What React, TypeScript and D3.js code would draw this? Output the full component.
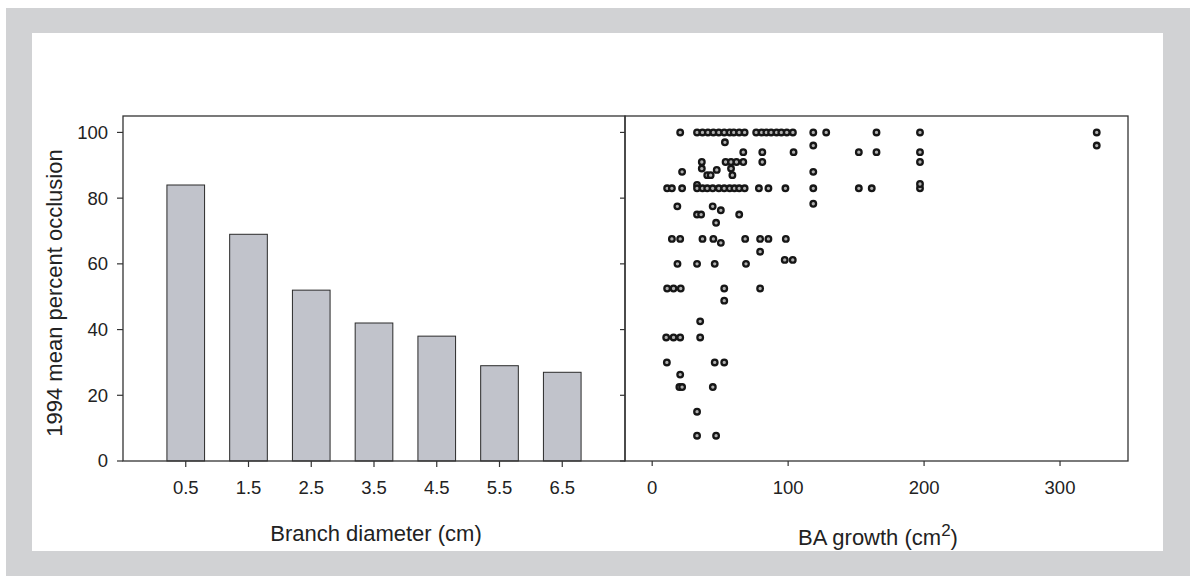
import React from "react";
import * as d3 from "d3";

// left panel: mean occlusion by branch diameter class
const diameterClasses = [0.5, 1.5, 2.5, 3.5, 4.5, 5.5, 6.5];
const meanOcclusion = [84, 69, 52, 42, 38, 29, 27];
const yTicks = [0, 20, 40, 60, 80, 100];
const growthTicks = [0, 100, 200, 300];

// right panel: BA growth (cm2) vs percent occlusion, one pair per branch
const scatterPoints: [number, number][] = [
  [20.6, 100], [33, 100], [37, 100], [41, 100], [45, 100], [49, 100], [53, 100], [57, 100],
  [60, 100], [64, 100], [68, 100], [76.5, 100], [80.5, 100], [84, 100], [87.5, 100],
  [91.5, 100], [95, 100], [99, 100], [103.5, 100], [118.5, 100], [128, 100], [165, 100],
  [197, 100], [327, 100],
  [53.5, 97], [118.5, 96], [327, 96],
  [67, 94], [81, 94], [104, 94], [152, 94], [165, 94], [197, 94],
  [36.5, 91], [54, 91], [58, 91], [62, 91], [67, 91], [81, 91], [197, 91],
  [36.5, 89], [58, 89], [47.5, 88.6],
  [22, 88], [118.5, 88],
  [40.5, 87], [43, 87], [59, 87],
  [33, 84],
  [11, 83], [14.5, 83], [22, 83], [33, 83], [37, 83], [40.5, 83], [44.5, 83], [49, 83],
  [53, 83], [57, 83], [60.5, 83], [64, 83], [68, 83], [78.5, 83], [85.5, 83], [98, 83],
  [118.5, 83], [152, 83], [161.5, 83], [197, 83], [197, 84.3],
  [118.5, 78.3], [18.5, 77.5], [44.5, 77.5], [50.5, 76.3],
  [33, 75], [36, 75], [64, 75], [47, 72.5],
  [14.5, 67.6], [20.6, 67.6], [37, 67.6], [45, 67.6], [68.4, 67.6], [79.4, 67.6],
  [85.5, 67.6], [98.3, 67.6], [50.5, 66.4],
  [79.4, 63.7], [97.5, 61.2], [103.4, 61.2],
  [18.6, 60], [33, 60], [46, 60], [69, 60],
  [11, 52.5], [15.7, 52.5], [21, 52.5], [53, 52.5], [79.4, 52.5], [53, 48.8],
  [35.3, 42.5],
  [10.3, 37.6], [15.7, 37.6], [20.6, 37.6], [35.3, 37.6],
  [10.8, 30], [46, 30], [53, 30],
  [20.6, 26.3], [20, 22.5], [22, 22.5], [44.6, 22.5],
  [33, 15], [33, 7.7], [47, 7.7],
];

const W = 1190;
const H = 576;
const top = 116;
const bottom = 461;
const leftX0 = 123;
const midX = 625;
const rightX1 = 1128;

const axisColor = "#333";
const textColor = "#222";
const font = "'Liberation Sans', Arial, Helvetica, sans-serif";

export default function App() {
  const xBar = d3.scaleLinear().domain([-0.5, 7.5]).range([leftX0, midX]);
  const y = d3.scaleLinear().domain([0, 105]).range([bottom, top]);
  const xGrowth = d3.scaleLinear().domain([-20, 350]).range([midX, rightX1]);
  const barW = xBar(0.6) - xBar(0);

  return (
    <svg
      width={W}
      height={H}
      style={{ position: "absolute", left: 0, top: 0, fontFamily: font }}
    >
      <rect x={6} y={8} width={W - 6} height={H - 8} fill="#d1d2d4" />
      <rect x={32} y={33} width={1131} height={518} fill="#fff" />

      {/* bars */}
      {diameterClasses.map((c, i) => (
        <rect
          key={c}
          x={xBar(c) - barW / 2}
          y={y(meanOcclusion[i])}
          width={barW}
          height={y(0) - y(meanOcclusion[i])}
          fill="#c1c3cb"
          stroke="#2a2a2a"
          strokeWidth={1}
        />
      ))}

      {/* scatter */}
      {scatterPoints.map((p, i) => (
        <circle
          key={i}
          cx={xGrowth(p[0])}
          cy={y(p[1])}
          r={2.8}
          fill="#b0b0b0"
          stroke="#161616"
          strokeWidth={2.3}
        />
      ))}

      {/* frames */}
      <rect x={leftX0} y={top} width={midX - leftX0} height={bottom - top} fill="none" stroke={axisColor} strokeWidth={1.3} />
      <rect x={midX} y={top} width={rightX1 - midX} height={bottom - top} fill="none" stroke={axisColor} strokeWidth={1.3} />

      {/* y axis ticks + labels */}
      {yTicks.map((t) => (
        <g key={t}>
          <line x1={leftX0 - 6} x2={leftX0} y1={y(t)} y2={y(t)} stroke={axisColor} strokeWidth={1.2} />
          <line x1={midX - 5} x2={midX} y1={y(t)} y2={y(t)} stroke={axisColor} strokeWidth={1.2} />
          <text x={leftX0 - 15} y={y(t)} dy="0.35em" textAnchor="end" fontSize={18.5} fill={textColor}>
            {t}
          </text>
        </g>
      ))}

      {/* bar x ticks */}
      {diameterClasses.map((c) => (
        <g key={c}>
          <line x1={xBar(c)} x2={xBar(c)} y1={bottom} y2={bottom + 6} stroke={axisColor} strokeWidth={1.2} />
          <text x={xBar(c)} y={bottom + 33} textAnchor="middle" fontSize={18.5} fill={textColor}>
            {c.toFixed(1)}
          </text>
        </g>
      ))}

      {/* growth x ticks */}
      {growthTicks.map((t) => (
        <g key={t}>
          <line x1={xGrowth(t)} x2={xGrowth(t)} y1={bottom} y2={bottom + 5} stroke={axisColor} strokeWidth={1.2} />
          <text x={xGrowth(t)} y={bottom + 33} textAnchor="middle" fontSize={18.5} fill={textColor}>
            {t}
          </text>
        </g>
      ))}

      {/* titles */}
      <text x={376} y={541} textAnchor="middle" fontSize={22} fill={textColor}>
        Branch diameter (cm)
      </text>
      <text x={878} y={545} textAnchor="middle" fontSize={22} fill={textColor}>
        BA growth (cm<tspan dy={-9} fontSize={17}>2</tspan>
        <tspan dy={9}>)</tspan>
      </text>
      <text
        transform="translate(62, 293) rotate(-90)"
        textAnchor="middle"
        fontSize={22}
        fill={textColor}
      >
        1994 mean percent occlusion
      </text>
    </svg>
  );
}
